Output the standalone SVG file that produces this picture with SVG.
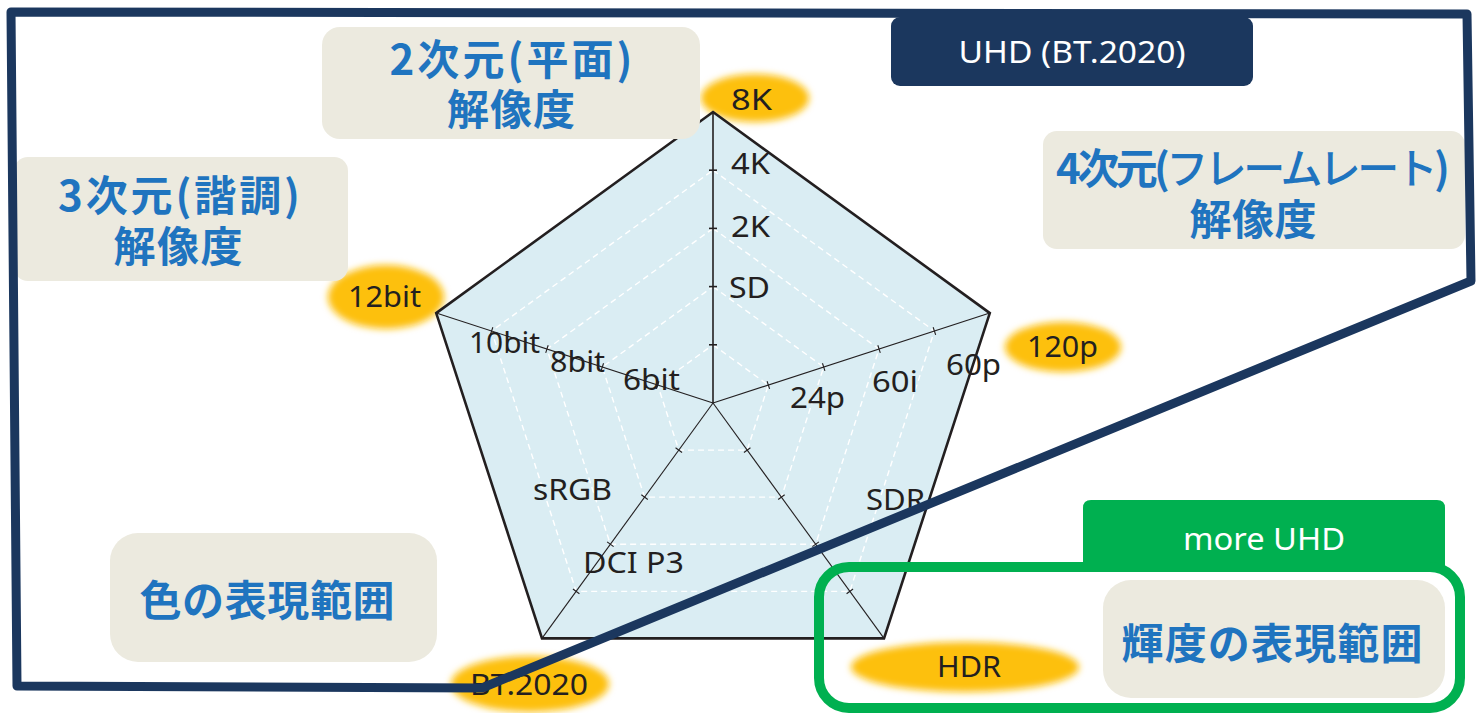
<svg xmlns="http://www.w3.org/2000/svg" xmlns:xlink="http://www.w3.org/1999/xlink" width="1483" height="713" viewBox="0 0 1483 713">
<style>
.lbl{font-family:"Noto Sans","Open Sans","DejaVu Sans",sans-serif;font-size:29px;fill:#231F20}
.ttl{font-family:"Noto Sans CJK JP","Noto Sans CJK SC",sans-serif;font-size:42px;font-weight:bold;fill:#1F74BF;text-anchor:middle}
.wht{font-family:"Noto Sans","Open Sans",sans-serif;font-size:31px;fill:#FFFFFF;text-anchor:middle}
.box{fill:#ECEADF}
.ell{fill:#FDC010;filter:url(#soft)}
.grid{fill:none;stroke:#FFFFFF;stroke-width:1.4;stroke-dasharray:6 4}
.ax{stroke:#231F20;stroke-width:1.1;fill:none}
</style>
<defs>
<filter id="soft" x="-20%" y="-40%" width="140%" height="180%">
<feGaussianBlur stdDeviation="3.5"/>
</filter>
<g id="axis">
<line x1="713" y1="403" x2="713" y2="112"/>
<line x1="709" y1="344.8" x2="717" y2="344.8"/>
<line x1="709" y1="286.6" x2="717" y2="286.6"/>
<line x1="709" y1="228.4" x2="717" y2="228.4"/>
<line x1="709" y1="170.2" x2="717" y2="170.2"/>
</g>
</defs>
<rect width="1483" height="713" fill="#FFFFFF"/>

<g id="ellipses">
<ellipse class="ell" cx="755" cy="98" rx="54" ry="24"/>
<ellipse class="ell" cx="386" cy="297" rx="58" ry="32"/>
<ellipse class="ell" cx="1063" cy="347" rx="58" ry="25"/>
<ellipse class="ell" cx="965" cy="667" rx="114" ry="25"/>
<ellipse class="ell" cx="530" cy="684" rx="79" ry="28"/>
</g>

<g id="radar">
<polygon points="713,112 989.8,313.1 884,638.4 542,638.4 436.2,313.1" fill="#DAEDF3"/>
<polygon class="grid" points="713,344.8 768.35,385.02 747.21,450.08 678.79,450.08 657.65,385.02"/>
<polygon class="grid" points="713,286.6 823.71,367.03 781.42,497.17 644.58,497.17 602.29,367.03"/>
<polygon class="grid" points="713,228.4 879.06,349.05 815.63,544.25 610.37,544.25 546.94,349.05"/>
<polygon class="grid" points="713,170.2 934.41,331.06 849.84,591.33 576.16,591.33 491.59,331.06"/>
<g class="ax">
<use xlink:href="#axis" style="stroke-width:1.6"/>
<use xlink:href="#axis" transform="rotate(72 713 403)"/>
<use xlink:href="#axis" transform="rotate(144 713 403)"/>
<use xlink:href="#axis" transform="rotate(216 713 403)"/>
<use xlink:href="#axis" transform="rotate(288 713 403)"/>
</g>
<polygon points="713,112 989.8,313.1 884,638.4 542,638.4 436.2,313.1" fill="none" stroke="#231F20" stroke-width="2.6" stroke-linejoin="miter"/>
</g>

<g id="labels">
<text class="lbl" x="731" y="110" textLength="41" lengthAdjust="spacingAndGlyphs">8K</text>
<text class="lbl" x="731" y="174" textLength="39" lengthAdjust="spacingAndGlyphs">4K</text>
<text class="lbl" x="731" y="237" textLength="39" lengthAdjust="spacingAndGlyphs">2K</text>
<text class="lbl" x="729" y="298" textLength="41" lengthAdjust="spacingAndGlyphs">SD</text>
<text class="lbl" x="348" y="307" textLength="73" lengthAdjust="spacingAndGlyphs">12bit</text>
<text class="lbl" x="469" y="353" textLength="71" lengthAdjust="spacingAndGlyphs">10bit</text>
<text class="lbl" x="550" y="372" textLength="55" lengthAdjust="spacingAndGlyphs">8bit</text>
<text class="lbl" x="623" y="390" textLength="57" lengthAdjust="spacingAndGlyphs">6bit</text>
<text class="lbl" x="1027" y="357" textLength="71" lengthAdjust="spacingAndGlyphs">120p</text>
<text class="lbl" x="946" y="375" textLength="55" lengthAdjust="spacingAndGlyphs">60p</text>
<text class="lbl" x="872" y="392" textLength="46" lengthAdjust="spacingAndGlyphs">60i</text>
<text class="lbl" x="790" y="408" textLength="55" lengthAdjust="spacingAndGlyphs">24p</text>
<text class="lbl" x="533" y="500" textLength="79" lengthAdjust="spacingAndGlyphs">sRGB</text>
<text class="lbl" x="583" y="573" textLength="101" lengthAdjust="spacingAndGlyphs">DCI P3</text>
<text class="lbl" x="470" y="695" textLength="118" lengthAdjust="spacingAndGlyphs">BT.2020</text>
<text class="lbl" x="866" y="510" textLength="59" lengthAdjust="spacingAndGlyphs">SDR</text>
<text class="lbl" x="937" y="677" textLength="64" lengthAdjust="spacingAndGlyphs">HDR</text>
</g>

<g id="box-2d">
<rect class="box" x="322" y="27" width="378" height="112" rx="18"/>
<text class="ttl" x="511" y="75" textLength="243">2次元(平面)</text>
<text class="ttl" x="511" y="125" textLength="128">解像度</text>
</g>
<g id="box-3d">
<rect class="box" x="14" y="157" width="334" height="124" rx="14"/>
<text class="ttl" x="179" y="211" textLength="242">3次元(諧調)</text>
<text class="ttl" x="178" y="262" textLength="129">解像度</text>
</g>
<g id="box-4d">
<rect class="box" x="1043" y="131" width="422" height="118" rx="14"/>
<text class="ttl" x="1253" y="184" textLength="394">4次元(<tspan font-weight="500">フレームレート</tspan>)</text>
<text class="ttl" x="1253" y="235" textLength="127">解像度</text>
</g>
<g id="box-color">
<rect class="box" x="110" y="533" width="327" height="129" rx="28"/>
<text class="ttl" x="267" y="616" textLength="255">色の表現範囲</text>
</g>

<g id="uhd-frame">
<polygon points="11,12 1467,14 1471,281 482,688 17,686" fill="none" stroke="#1B375E" stroke-width="9" stroke-linejoin="round"/>
<rect x="891" y="17" width="362" height="69" rx="9" fill="#1B375E"/>
<text class="wht" x="1072" y="63" textLength="227" lengthAdjust="spacingAndGlyphs">UHD (BT.2020)</text>
</g>

<g id="more-uhd">
<path d="M1083,567 V508 Q1083,500 1091,500 H1437 Q1445,500 1445,508 V567 Z" fill="#00B050"/>
<rect x="819" y="567" width="641" height="141" rx="30" fill="none" stroke="#00B050" stroke-width="10"/>
<text class="wht" x="1264" y="550" textLength="162" lengthAdjust="spacingAndGlyphs">more UHD</text>
</g>
<g id="box-luma">
<rect class="box" x="1103" y="580" width="342" height="118" rx="28"/>
<text class="ttl" x="1272" y="659" textLength="301">輝度の表現範囲</text>
</g>
</svg>
